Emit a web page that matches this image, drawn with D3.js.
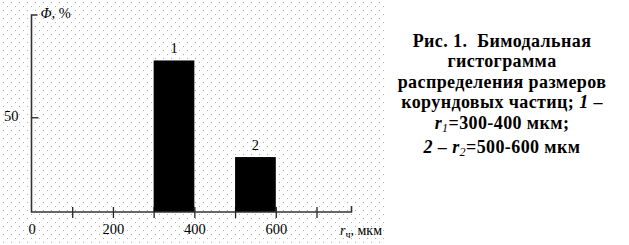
<!DOCTYPE html>
<html>
<head>
<meta charset="utf-8">
<script src="https://cdn.jsdelivr.net/npm/d3@7"></script>
<style>
  html, body { margin: 0; padding: 0; background: #fff; }
  svg { display: block; }
  text { font-family: "Liberation Serif", "Times New Roman", serif; fill: #000; }
</style>
</head>
<body>
<div id="chart"></div>
<script>
'use strict';

// histogram bins, мкм
const binStart = [300, 500];
const binEnd = [400, 600];
const binValue = [80, 29];
const binLabel = ['1', '2'];

const xTicks = [100, 200, 300, 400, 500, 600, 700];
const xTickLabels = [0, 200, 400, 600];
const yTicks = [50];

const width = 629;
const height = 245;

let svg = d3.select('#chart').append('svg')
    .attr('width', width)
    .attr('height', height);

// dotted paper background
let defs = svg.append('defs');
let pat = defs.append('pattern')
    .attr('id', 'dots')
    .attr('patternUnits', 'userSpaceOnUse')
    .attr('width', 8)
    .attr('height', 8);
pat.append('rect').attr('x', 3).attr('y', 2).attr('width', 1).attr('height', 1).attr('fill', '#aaa');
pat.append('rect').attr('x', 7).attr('y', 6).attr('width', 1).attr('height', 1).attr('fill', '#aaa');

svg.append('rect')
    .attr('width', 387)
    .attr('height', height)
    .attr('fill', 'url(#dots)');

let x = d3.scaleLinear().domain([0, 700]).range([31.5, 316.5]);
let y = d3.scaleLinear().domain([0, 104]).range([212, 15]);

const x0 = x(0), y0 = y(0);
const xEnd = 351.5, yTop = y(104);

// ticks on x axis (crossing the axis line)
let xAxis = svg.append('g')
    .attr('transform', `translate(0,${y0})`)
    .call(d3.axisBottom(x).tickValues(xTicks).tickSize(6).tickFormat(''));
xAxis.select('.domain').remove();
xAxis.selectAll('.tick line')
    .attr('y1', -5)
    .attr('stroke', '#222')
    .attr('stroke-width', 1.3);

// tick labels
let xLab = svg.append('g')
    .attr('transform', `translate(0,${y0})`)
    .call(d3.axisBottom(x).tickValues(xTickLabels).tickSize(0).tickPadding(12).tickFormat(d3.format('d')));
xLab.select('.domain').remove();
xLab.selectAll('text')
    .attr('font-size', 14.5)
    .attr('font-family', '"Liberation Serif", serif');

// y ticks
let yAxis = svg.append('g')
    .attr('transform', `translate(${x0},0)`)
    .call(d3.axisLeft(y).tickValues(yTicks).tickSize(5).tickPadding(8).tickFormat(d3.format('d')));
yAxis.select('.domain').remove();
yAxis.selectAll('.tick line')
    .attr('x2', 7)
    .attr('stroke', '#222')
    .attr('stroke-width', 1.3);
yAxis.selectAll('text')
    .attr('font-size', 14.5)
    .attr('font-family', '"Liberation Serif", serif')
    .attr('dy', '0.2em');

// bars
svg.append('g')
    .selectAll('rect')
    .data(binValue)
    .enter()
    .append('rect')
    .attr('x', (d, i) => x(binStart[i]))
    .attr('y', d => y(d))
    .attr('width', (d, i) => x(binEnd[i]) - x(binStart[i]))
    .attr('height', d => y0 - y(d))
    .attr('fill', '#000');

svg.append('g')
    .selectAll('text')
    .data(binValue)
    .enter()
    .append('text')
    .attr('x', (d, i) => (x(binStart[i]) + x(binEnd[i])) / 2)
    .attr('y', d => y(d) - 7)
    .attr('text-anchor', 'middle')
    .attr('font-size', 14.5)
    .text((d, i) => binLabel[i]);

// axis lines with end hooks
svg.append('path')
    .attr('d', `M${x0 + 6},${yTop}H${x0}V${y0}H${xEnd}V${y0 - 6}`)
    .attr('fill', 'none')
    .attr('stroke', '#333')
    .attr('stroke-width', 1.6);

// axis titles
let yTitle = svg.append('text')
    .attr('x', x0 + 9)
    .attr('y', 18)
    .attr('font-size', 14.5);
yTitle.append('tspan').attr('font-style', 'italic').text('Φ');
yTitle.append('tspan').text(', %');

let xTitle = svg.append('text')
    .attr('x', 340)
    .attr('y', 235)
    .attr('font-size', 14);
xTitle.append('tspan').attr('font-style', 'italic').text('r');
xTitle.append('tspan').attr('font-size', 10).attr('dy', 3).text('ч');
xTitle.append('tspan').attr('dy', -3).text(', мкм');

// caption
const capX = 502;
let cap = svg.append('g')
    .attr('font-weight', 'bold')
    .attr('font-size', 18)
    .attr('letter-spacing', 0.4)
    .attr('text-anchor', 'middle');

const capLines = [
    [['Рис. 1.\u00a0 Бимодальная']],
    [['гистограмма']],
    [['распределения размеров']],
    [['корундовых частиц; '], ['1', 'i'], [' –']],
    [['r', 'i'], ['1', 'sub'], ['=300-400 мкм;']],
    [['2', 'i'], [' – '], ['r', 'i'], ['2', 'sub'], ['=500-600 мкм']]
];
const capY = [47, 67, 88, 108, 129, 153];

capLines.forEach((parts, li) => {
    let t = cap.append('text')
        .attr('x', capX)
        .attr('y', capY[li]);
    let shifted = false;
    parts.forEach(p => {
        let s = t.append('tspan').text(p[0]);
        if (p[1] === 'i') s.attr('font-style', 'italic');
        if (p[1] === 'sub') {
            s.attr('font-style', 'italic').attr('font-weight', 'normal')
                .attr('font-size', 12).attr('dy', 3);
            shifted = true;
        } else if (shifted) {
            s.attr('dy', -3);
            shifted = false;
        }
    });
});
</script>
</body>
</html>
